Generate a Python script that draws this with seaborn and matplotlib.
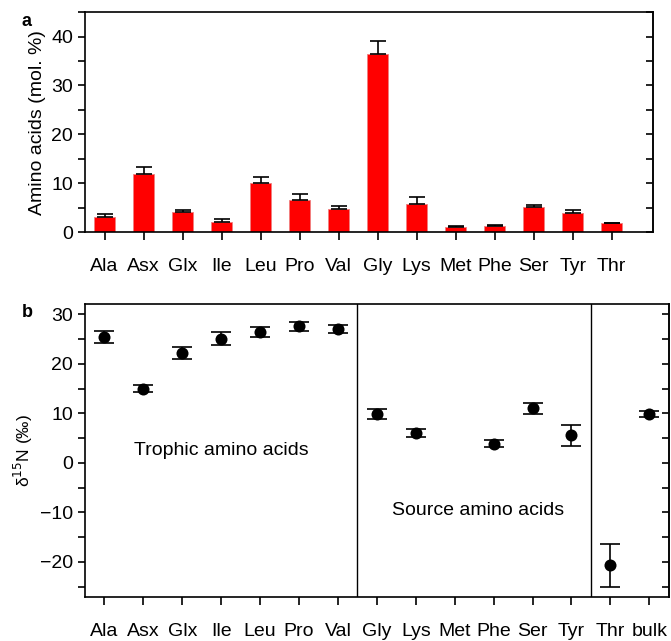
import numpy as np
import pandas as pd
import matplotlib
matplotlib.use('Agg')
import matplotlib.pyplot as plt
from matplotlib.ticker import MultipleLocator
import seaborn as sns

# panel a: amino acid composition
aa_names = ["Ala", "Asx", "Glx", "Ile", "Leu", "Pro", "Val",
            "Gly", "Lys", "Met", "Phe", "Ser", "Tyr", "Thr"]
mol_pct = [3.1, 11.8, 4.0, 2.0, 10.1, 6.5, 4.8,
           36.4, 5.7, 1.1, 1.2, 5.1, 3.8, 1.8]
mol_err = [0.5, 1.5, 0.5, 0.6, 1.25, 1.3, 0.5,
           2.6, 1.4, 0.2, 0.2, 0.4, 0.8, 0.15]

# panel b: d15N of amino acids
n_names = ["Ala", "Asx", "Glx", "Ile", "Leu", "Pro", "Val",
           "Gly", "Lys", "Met", "Phe", "Ser", "Tyr", "Thr", "bulk"]
d15n = [25.4, 15.0, 22.2, 25.1, 26.4, 27.6, 27.1,
        9.9, 6.0, np.nan, 3.85, 11.0, 5.6, -20.7, 9.9]
d15n_err = [1.2, 0.65, 1.2, 1.25, 1.0, 0.9, 0.85,
            1.0, 0.75, np.nan, 0.7, 1.1, 2.1, 4.4, 0.55]

sns.set_theme(style="ticks")
plt.rcParams['font.family'] = ['Liberation Sans', 'DejaVu Sans']
plt.rcParams['text.color'] = 'black'
plt.rcParams['axes.labelcolor'] = 'black'
plt.rcParams['xtick.color'] = 'black'
plt.rcParams['ytick.color'] = 'black'

fig = plt.figure(figsize=(6.71, 6.41), dpi=100)
ax_a = fig.add_axes([0.1267, 0.638, 0.846, 0.343])
ax_b = fig.add_axes([0.1267, 0.0686, 0.870, 0.4564])

df_a = pd.DataFrame({"aa": aa_names, "val": mol_pct, "err": mol_err})
sns.barplot(data=df_a, x="aa", y="val", order=aa_names, color="#ff0000",
            saturation=1, width=0.55, errorbar=None, ax=ax_a,
            edgecolor="#f08080", linewidth=0.6)
xa = np.arange(len(aa_names))
ax_a.errorbar(xa, df_a["val"], yerr=[np.zeros(len(xa)), df_a["err"]],
              fmt="none", ecolor="black", elinewidth=1.2, capsize=6, capthick=1.2)
ax_a.set_xlim(-0.5, 14.05)
ax_a.set_ylim(0, 45)
ax_a.yaxis.set_major_locator(MultipleLocator(10))
ax_a.yaxis.set_minor_locator(MultipleLocator(5))
ax_a.set_xlabel("")
ax_a.set_ylabel("Amino acids (mol. %)", fontsize=14)

df_b = pd.DataFrame({"aa": n_names, "val": d15n, "err": d15n_err})
xb = np.arange(len(n_names))
ax_b.errorbar(xb, df_b["val"], yerr=df_b["err"], fmt="none", ecolor="black",
              elinewidth=1.2, capsize=7, capthick=1.2)
sns.scatterplot(x=xb, y=df_b["val"], color="black", s=75, edgecolor="black",
                linewidth=0, ax=ax_b, zorder=3)
ax_b.set_xticks(xb)
ax_b.set_xticklabels(n_names)
ax_b.set_xlim(-0.5, 14.5)
ax_b.set_ylim(-27.1, 32)
ax_b.yaxis.set_major_locator(MultipleLocator(10))
ax_b.yaxis.set_minor_locator(MultipleLocator(5))
ax_b.axvline(6.5, color="black", lw=1.0)
ax_b.axvline(12.5, color="black", lw=1.0)
ax_b.text(3.0, 2.6, "Trophic amino acids", ha="center", va="center", fontsize=14)
ax_b.text(9.6, -9.7, "Source amino acids", ha="center", va="center", fontsize=14)
ax_b.set_xlabel("")
ax_b.set_ylabel("δ$^{15}$N (‰)", fontsize=12.5)

for ax in (ax_a, ax_b):
    for sp in ax.spines.values():
        sp.set_visible(True)
        sp.set_linewidth(1.2)
        sp.set_color("black")
    ax.tick_params(axis="x", which="both", direction="out", length=6, width=1.2,
                   pad=13, labelsize=14, top=False, bottom=True)
    ax.tick_params(axis="y", which="both", direction="out", length=5, width=1.2,
                   labelsize=14, left=True, right=False)
    ax.yaxis.set_ticks_position("left")
    twin = ax.secondary_yaxis("right")
    twin.yaxis.set_major_locator(MultipleLocator(10))
    twin.yaxis.set_minor_locator(MultipleLocator(5))
    twin.tick_params(which="both", direction="in", length=5, width=1.2,
                     labelright=False)
    twin.spines["right"].set_linewidth(1.2)

fig.text(0.04, 0.967, "a", fontsize=13, fontweight="bold", ha="center", va="center")
fig.text(0.04, 0.512, "b", fontsize=13, fontweight="bold", ha="center", va="center")

fig.savefig("out.png", dpi=100)
